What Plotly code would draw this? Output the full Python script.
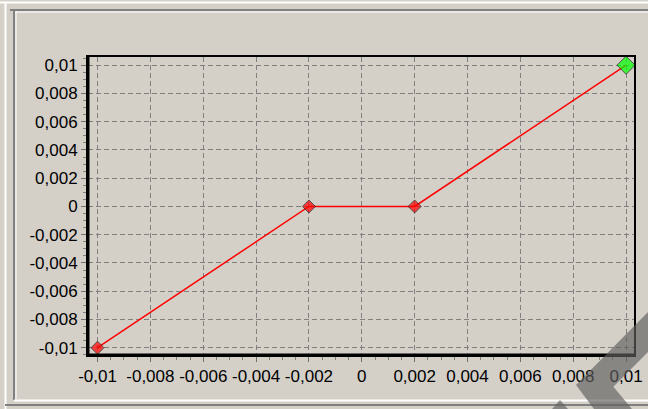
import plotly.graph_objects as go

# ---- data ----
x_vals = [-0.01, -0.002, 0.002, 0.01]
y_vals = [-0.01, 0.0, 0.0, 0.01]
marker_colors = ["#FF0000", "#FF0000", "#FF0000", "#00FF00"]
marker_sizes = [10, 10, 10, 14]

tick_vals = [-0.01, -0.008, -0.006, -0.004, -0.002, 0, 0.002, 0.004, 0.006, 0.008, 0.01]
tick_text = ["-0,01", "-0,008", "-0,006", "-0,004", "-0,002", "0",
             "0,002", "0,004", "0,006", "0,008", "0,01"]

W, H = 648, 409
L, R, T, B = 88, 634, 57, 355
BG = "#D4D0C8"


def px(x):
    return (x - L) / (R - L)


def py(y):
    return (B - y) / (B - T)


fig = go.Figure()
fig.add_trace(go.Scatter(
    x=x_vals, y=y_vals, mode="lines+markers",
    line=dict(color="#FF0000", width=1.5),
    marker=dict(symbol="diamond", size=marker_sizes, color=marker_colors,
                line=dict(color="#202020", width=1)),
    showlegend=False, hoverinfo="skip", cliponaxis=False,
))

axis_common = dict(
    tickmode="array", tickvals=tick_vals, ticktext=tick_text,
    showgrid=True, gridcolor="#808080", gridwidth=1.2, griddash="5px,3px",
    zeroline=False, automargin=False,
    showline=True, linecolor="black", linewidth=2, mirror=True,
    ticks="outside", ticklen=5, tickcolor="#707070", tickwidth=1,
    minor=dict(dtick=0.0005, tick0=-0.01, ticks="outside", ticklen=3,
               tickcolor="#808080", tickwidth=1, showgrid=False),
    tickfont=dict(family="Liberation Sans, Arial, sans-serif", size=17, color="black"),
)

fig.update_xaxes(range=[-0.01036, 0.0103], **axis_common)
fig.update_yaxes(range=[-0.010517, 0.01058], **axis_common)

shapes = []
# thicker left and bottom axis lines
shapes.append(dict(type="line", xref="paper", yref="paper", x0=0, x1=0, y0=0, y1=1,
                   line=dict(color="black", width=3)))
shapes.append(dict(type="line", xref="paper", yref="paper", x0=0, x1=1, y0=0, y1=0,
                   line=dict(color="black", width=3)))
# panel frame (group box)
frame = [
    ((0, 2.5), (W, 2.5), "#FFFFFF", 2),
    ((10, 10), (W, 10), "#808080", 2),
    ((15, 12), (W, 12), "#FFFFFF", 1),
    ((5.5, 2), (5.5, H), "#FFFFFF", 2),
    ((14, 10), (14, 400), "#808080", 2),
    ((16, 12), (16, 399), "#FFFFFF", 1),
    ((14, 400.5), (W, 400.5), "#FFFFFF", 2),
    ((5, 405), (W, 405), "#808080", 2),
]
for (x0, y0), (x1, y1), c, w in frame:
    shapes.append(dict(type="line", xref="paper", yref="paper",
                       x0=px(x0), y0=py(y0), x1=px(x1), y1=py(y1),
                       line=dict(color=c, width=w)))

# watermark chevron
poly = [(576, 385), (648, 312), (648, 352), (613.4, 386.7), (632, 409), (594, 409)]
path = "M " + " L ".join(f"{px(a):.5f},{py(b):.5f}" for a, b in poly) + " Z"
shapes.append(dict(type="path", xref="paper", yref="paper", path=path,
                   fillcolor="rgba(95,95,95,0.66)", line=dict(width=0), layer="above"))
tri = [(552, 409), (560, 400), (568, 409)]
path2 = "M " + " L ".join(f"{px(a):.5f},{py(b):.5f}" for a, b in tri) + " Z"
shapes.append(dict(type="path", xref="paper", yref="paper", path=path2,
                   fillcolor="rgba(95,95,95,0.66)", line=dict(width=0), layer="above"))

fig.update_layout(
    width=W, height=H,
    margin=dict(l=L, r=W - R, t=T, b=H - B, autoexpand=False),
    paper_bgcolor=BG, plot_bgcolor=BG,
    shapes=shapes,
    showlegend=False,
)

fig.write_html(
    "out.html",
    config={"displayModeBar": False},
    post_script="document.body.style.margin='0px';document.body.style.background='#D4D0C8';",
)
